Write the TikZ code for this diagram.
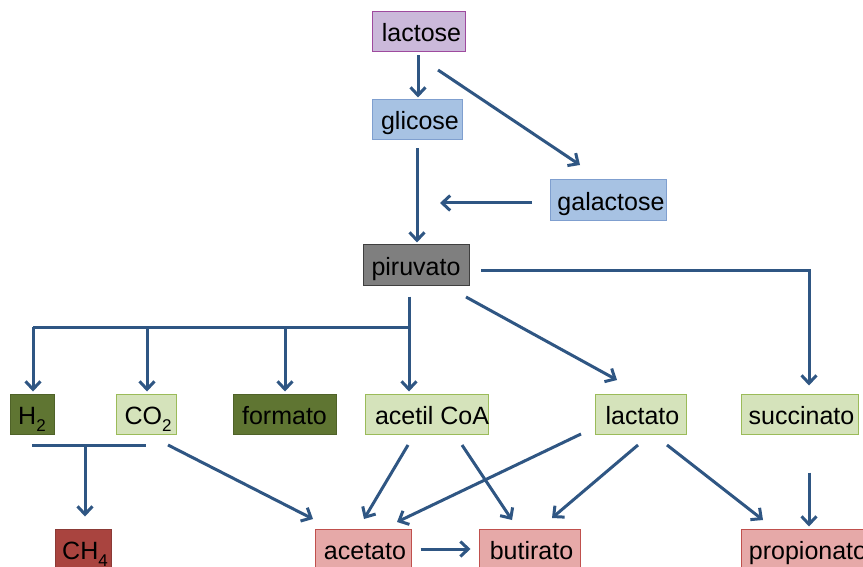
\documentclass[tikz,border=0pt]{standalone}
\usepackage{fontspec}
\setmainfont{Liberation Sans}
\usetikzlibrary{arrows.meta}
\definecolor{arrc}{HTML}{2F5683}
\definecolor{purF}{HTML}{CBB9DA}
\definecolor{purD}{HTML}{9E4A9E}
\definecolor{bluF}{HTML}{A7C2E3}
\definecolor{bluD}{HTML}{7F9FCF}
\definecolor{gryF}{HTML}{7F7F7F}
\definecolor{gryD}{HTML}{3F3F3F}
\definecolor{dgrF}{HTML}{5F7532}
\definecolor{dgrD}{HTML}{4F6228}
\definecolor{lgrF}{HTML}{D5E3BB}
\definecolor{lgrD}{HTML}{9BBB59}
\definecolor{redF}{HTML}{A9443F}
\definecolor{redD}{HTML}{8B3A36}
\definecolor{pnkF}{HTML}{E6A9A8}
\definecolor{pnkD}{HTML}{C0504D}
\newcommand{\mysub}[1]{\raisebox{-7pt}{\fontsize{17}{19}\selectfont #1}}
\tikzset{
  box/.style={draw, line width=1pt, inner sep=0pt, minimum height=40pt, text height=24pt, text depth=4pt, font=\fontsize{25}{29}\selectfont, text=black},
  purbox/.style={box, fill=purF, draw=purD},
  blubox/.style={box, fill=bluF, draw=bluD},
  grybox/.style={box, fill=gryF, draw=gryD},
  dgrbox/.style={box, fill=dgrF, draw=dgrD},
  lgrbox/.style={box, fill=lgrF, draw=lgrD},
  redbox/.style={box, fill=redF, draw=redD},
  pnkbox/.style={box, fill=pnkF, draw=pnkD},
  arr/.style={draw=arrc, line width=3pt, -{Straight Barb[length=8pt,width=15pt,line width=3pt]}},
  ln/.style={draw=arrc, line width=3pt}
}
\begin{document}
\begin{tikzpicture}[x=1pt,y=-1pt]
\useasboundingbox (0,0) rectangle (863,567);
\fill[white] (0,0) rectangle (863,567);
% nodes
\node[purbox, minimum width=93pt] (lactose) at (418.5,32) {\hspace{6pt}lactose};
\node[blubox, minimum width=90pt] (glicose) at (417,120) {\hspace{6pt}glicose};
\node[blubox, minimum width=116pt, minimum height=41pt] (galactose) at (608,200.5) {\hspace{6pt}galactose};
\node[grybox, minimum width=106pt] (piruvato) at (416,265) {piruvato};
\node[dgrbox, minimum width=44pt] (h2) at (32,414) {H\mysub{2}};
\node[lgrbox, minimum width=60pt] (co2) at (146,414) {\hspace{4pt}CO\mysub{2}};
\node[dgrbox, minimum width=103pt] (formato) at (284.5,414) {formato};
\node[lgrbox, minimum width=122pt] (acetil) at (427,414) {\hspace{10pt}acetil CoA};
\node[lgrbox, minimum width=91pt] (lactato) at (640.5,414) {\hspace{4pt}lactato};
\node[lgrbox, minimum width=117pt] (succinato) at (799.5,414) {\hspace{4pt}succinato};
\node[redbox, minimum width=56pt] (ch4) at (83,549) {\hspace{4pt}CH\mysub{4}};
\node[pnkbox, minimum width=96pt] (acetato) at (363,549) {\hspace{4pt}acetato};
\node[pnkbox, minimum width=101pt] (butirato) at (529.5,549) {\hspace{4pt}butirato};
\node[pnkbox, minimum width=130pt] (propionato) at (806,549) {\hspace{4pt}propionato};
% free-end coordinates
\coordinate (lgs) at (438,70);
\coordinate (lge) at (580,165);
\coordinate (gas) at (532,203);
\coordinate (gae) at (440,203);
\coordinate (pj) at (409,327);
\coordinate (pl) at (33,327);
\coordinate (ps) at (481,270);
\coordinate (pc) at (809,270);
\coordinate (pls) at (466,297);
\coordinate (ple) at (617,380);
\coordinate (hcl) at (32,445);
\coordinate (hcr) at (146,445);
\coordinate (hcm) at (85,445);
% connectors
\draw[arr, shorten <=3pt, shorten >=2pt] (lactose.south -| 418,0) -- (glicose.north -| 418,0);
\draw[arr] (lgs) -- (lge);
\draw[arr] (gas) -- (gae);
\draw[arr, shorten <=8pt, shorten >=2pt] (glicose.south) -- (glicose.south |- piruvato.north);
\draw[arr, shorten >=8pt] (ps) -- (pc) -- (pc |- succinato.north);
\draw[ln, shorten <=11pt] (piruvato.south -| pj) -- (pj);
\draw[ln] (pl) -- (pj);
\draw[arr, shorten >=2pt] (pj) -- (pj |- acetil.north);
\draw[arr, shorten >=2pt] (pl) -- (pl |- h2.north);
\draw[arr, shorten >=2pt] (pj -| 147,0) -- (co2.north -| 147,0);
\draw[arr, shorten >=2pt] (pj -| 285,0) -- (formato.north -| 285,0);
\draw[arr] (pls) -- (ple);
\draw[ln] (hcl) -- (hcr);
\draw[arr, shorten >=12pt] (hcm) -- (hcm |- ch4.north);
\draw[arr] (168,445) -- (313,519);
\draw[arr] (408,445) -- (364,519);
\draw[arr] (462,445) -- (512,520);
\draw[arr] (581,434) -- (397,522);
\draw[arr] (638,445) -- (552,518);
\draw[arr] (667,445) -- (763,520);
\draw[arr, shorten <=38pt, shorten >=2pt] (succinato.south -| 809,0) -- (propionato.north -| 809,0);
\draw[arr, shorten <=9pt, shorten >=8pt] (acetato.east |- 0,549) -- (butirato.west |- 0,549);
\end{tikzpicture}
\end{document}
